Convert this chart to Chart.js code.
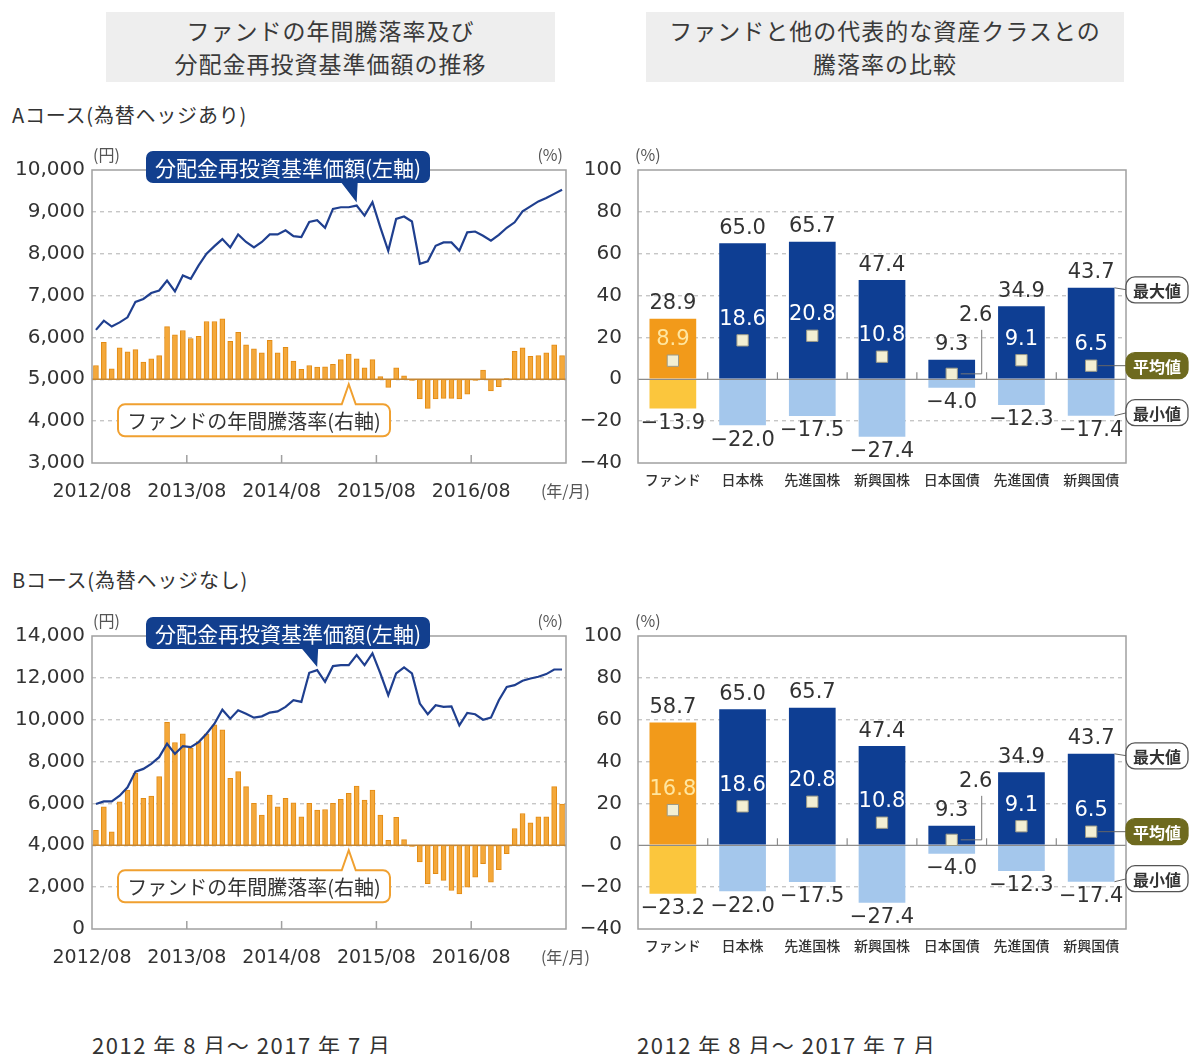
<!DOCTYPE html>
<html lang="ja">
<head>
<meta charset="utf-8">
<script src="https://cdn.jsdelivr.net/npm/chart.js@4.4.1/dist/chart.umd.min.js"></script>
<style>
  body { margin: 0; background: #fff; width: 1191px; height: 1054px; position: relative; overflow: hidden;
         font-family: "Noto Sans CJK JP", "Noto Sans", sans-serif; color: #333; }
  .title { position: absolute; top: 12px; height: 70px; background: #eeeeee; text-align: center;
           font-size: 23px; line-height: 33px; padding-top: 2px; box-sizing: border-box; color: #3a3a3a; letter-spacing: 1px; }
  .course { position: absolute; left: 12px; font-size: 20px; color: #333; letter-spacing: 0.8px; }
  .period { position: absolute; top: 1028px; font-size: 22px; color: #333; letter-spacing: 1.5px; }
  canvas { position: absolute; }
</style>
</head>
<body>
<div class="title" style="left:106px;width:449px">ファンドの年間騰落率及び<br>分配金再投資基準価額の推移</div>
<div class="title" style="left:646px;width:478px">ファンドと他の代表的な資産クラスとの<br>騰落率の比較</div>

<div class="course" style="top:100px">Aコース(為替ヘッジあり)</div>
<canvas id="leftA" width="600" height="372" style="left:0;top:140px"></canvas>
<canvas id="rightA" width="631" height="372" style="left:560px;top:140px"></canvas>

<div class="course" style="top:565px">Bコース(為替ヘッジなし)</div>
<canvas id="leftB" width="600" height="372" style="left:0;top:606px"></canvas>
<canvas id="rightB" width="631" height="372" style="left:560px;top:606px"></canvas>

<div class="period" style="left:92px">2012 年 8 月～ 2017 年 7 月</div>
<div class="period" style="left:637px">2012 年 8 月～ 2017 年 7 月</div>

<script>
const JP = '"Noto Sans CJK JP", "Noto Sans", sans-serif';
const NUM = '"DejaVu Sans", "Noto Sans CJK JP", sans-serif';

/* ---------- Data ---------- */
// x tick labels: month index where each label sits (2012/08 = 0)
const yearLabels = ['2012/08', '2013/08', '2014/08', '2015/08', '2016/08'];
const yearStartIdx = [0, 12, 24, 36, 48];

// A course: monthly NAV (dividends reinvested, yen) and annual return (%)
const navA = [6180, 6400, 6260, 6360, 6480, 6850, 6920, 7060, 7120, 7360, 7100, 7480,
              7400, 7720, 8000, 8180, 8350, 8150, 8460, 8280, 8150, 8280, 8460, 8460,
              8560, 8420, 8400, 8760, 8800, 8620, 9070, 9110, 9110, 9150, 8910, 9230,
              8630, 8070, 8830, 8890, 8770, 7760, 7820, 8190, 8270, 8270, 8070, 8510,
              8530, 8430, 8310, 8450, 8620, 8750, 9010, 9130, 9250, 9330, 9430, 9530];
const retA = [6.6, 17.6, 5.0, 15.0, 13.1, 14.2, 8.2, 9.8, 11.3, 25.2, 21.3, 23.3,
              19.4, 20.5, 27.6, 27.6, 28.9, 18.1, 22.4, 16.5, 14.5, 12.6, 18.6, 12.6,
              15.3, 8.7, 4.7, 6.6, 5.8, 6.0, 7.1, 9.4, 12.1, 9.8, 5.5, 9.4,
              1.3, -3.9, 5.5, 1.6, -0.5, -9.4, -13.9, -9.4, -9.1, -9.1, -9.4, -7.1,
              -0.5, 4.4, -5.5, -3.5, 0.3, 13.4, 15.0, 11.0, 11.3, 12.6, 16.5, 11.3];

// B course
const navB = [5970, 6100, 6100, 6370, 6770, 7520, 7650, 7890, 8210, 8850, 8370, 8740,
              8690, 8930, 9330, 9810, 10480, 10050, 10450, 10290, 10100, 10160, 10340, 10400,
              10610, 10930, 10850, 12240, 12370, 11810, 12560, 12610, 12610, 13090, 12610, 13170,
              12210, 11170, 12210, 12500, 12210, 10770, 10260, 10690, 10610, 10640, 9730, 10320,
              10260, 10000, 10100, 10930, 11570, 11650, 11860, 11970, 12050, 12180, 12400, 12400];
const retB = [7.2, 18.4, 6.4, 20.8, 26.4, 34.4, 22.4, 23.5, 32.8, 58.7, 49.1, 53.3,
              46.4, 49.6, 53.3, 57.6, 55.2, 32.0, 35.2, 28.0, 20.0, 14.4, 24.0, 18.4,
              22.4, 20.3, 13.6, 20.0, 16.8, 17.1, 20.0, 21.9, 24.8, 28.3, 21.6, 26.4,
              14.4, 2.4, 13.3, 2.7, -0.5, -8.0, -18.4, -13.6, -16.8, -21.6, -23.2, -20.0,
              -15.2, -8.8, -17.6, -11.7, -4.0, 8.0, 15.2, 10.7, 13.6, 13.6, 28.0, 19.7];

// Comparison with other asset classes (%)
const assetClasses = ['ファンド', '日本株', '先進国株', '新興国株', '日本国債', '先進国債', '新興国債'];
const maxA = [28.9, 65.0, 65.7, 47.4, 9.3, 34.9, 43.7];
const avgA = [8.9, 18.6, 20.8, 10.8, 2.6, 9.1, 6.5];
const minA = [-13.9, -22.0, -17.5, -27.4, -4.0, -12.3, -17.4];
const maxB = [58.7, 65.0, 65.7, 47.4, 9.3, 34.9, 43.7];
const avgB = [16.8, 18.6, 20.8, 10.8, 2.6, 9.1, 6.5];
const minB = [-23.2, -22.0, -17.5, -27.4, -4.0, -12.3, -17.4];

/* ---------- Helpers ---------- */
function seg(ctx, x1, y1, x2, y2) { ctx.beginPath(); ctx.moveTo(x1, y1); ctx.lineTo(x2, y2); ctx.stroke(); }

function calloutPath(ctx, x, y, w, h, r, tail) {
  ctx.beginPath();
  ctx.moveTo(x + r, y);
  if (tail && tail.side === 'top') { ctx.lineTo(tail.x1, y); ctx.lineTo(tail.tx, tail.ty); ctx.lineTo(tail.x2, y); }
  ctx.lineTo(x + w - r, y);
  ctx.arcTo(x + w, y, x + w, y + r, r);
  ctx.lineTo(x + w, y + h - r);
  ctx.arcTo(x + w, y + h, x + w - r, y + h, r);
  if (tail && tail.side === 'bottom') { ctx.lineTo(tail.x2, y + h); ctx.lineTo(tail.tx, tail.ty); ctx.lineTo(tail.x1, y + h); }
  ctx.lineTo(x + r, y + h);
  ctx.arcTo(x, y + h, x, y + h - r, r);
  ctx.lineTo(x, y + r);
  ctx.arcTo(x, y, x + r, y, r);
  ctx.closePath();
}

const fmt = v => (v < 0 ? '−' + Math.abs(v).toFixed(1) : v.toFixed(1));

/* ---------- Left chart decorations (frame, zero line, callouts) ---------- */
const leftDecor = {
  id: 'leftDecor',
  afterDatasetsDraw(chart, args, o) {
    const { ctx, chartArea: a } = chart;
    const { x, y, y1 } = chart.scales;
    const nav = chart.data.datasets[0].data;
    const y0 = y1.getPixelForValue(0);
    ctx.save();
    ctx.strokeStyle = '#c48633'; ctx.lineWidth = 1.6; seg(ctx, a.left, y0, a.right, y0);
    ctx.strokeStyle = '#a0a0a0'; ctx.lineWidth = 1.5;
    ctx.strokeRect(a.left, a.top, a.right - a.left, a.bottom - a.top);
    x.ticks.forEach((t, i) => {
      if (!i) return;
      const px = x.getPixelForValue(t.value);
      seg(ctx, px, a.bottom - 8, px, a.bottom);
    });

    ctx.fillStyle = '#555'; ctx.font = `16px ${JP}`; ctx.textBaseline = 'middle';
    ctx.textAlign = 'left'; ctx.fillText('(円)', a.left + 1, a.top - 15);
    ctx.textAlign = 'right'; ctx.fillText('(%)', a.right - 3, a.top - 15);
    ctx.fillText('(年/月)', a.right + 24, a.bottom + 28);

    // navy callout pointing at the NAV line
    const tp = nav[o.navTip];
    const tx = x.getPixelForValue(tp.x), ty = y.getPixelForValue(tp.y) - 3;
    const bx = a.left + 54, by = a.top - 19, bw = 284, bh = 32;
    calloutPath(ctx, bx, by, bw, bh, 7, { side: 'bottom', x1: tx - 15, x2: tx + 1, tx, ty });
    ctx.fillStyle = '#123f8e'; ctx.fill();
    ctx.fillStyle = '#fff'; ctx.font = `21px ${JP}`; ctx.textAlign = 'center';
    ctx.fillText('分配金再投資基準価額(左軸)', bx + bw / 2, by + bh / 2 + 1);

    // orange callout pointing at the bars
    const rx = x.getPixelForValue(o.retTip);
    const ox = a.left + 26, oy = y0 + 25, ow = 272, oh = 32;
    calloutPath(ctx, ox, oy, ow, oh, 7, { side: 'top', x1: rx - 7, x2: rx + 7, tx: rx, ty: y0 + 5 });
    ctx.fillStyle = '#fff'; ctx.fill();
    ctx.strokeStyle = '#f0a030'; ctx.lineWidth = 2; ctx.stroke();
    ctx.fillStyle = '#333'; ctx.font = `20px ${JP}`;
    ctx.fillText('ファンドの年間騰落率(右軸)', ox + ow / 2, oy + oh / 2 + 1);
    ctx.restore();
  }
};

function makeLeft(id, nav, ret, yMin, yMax, yStep, navTip, retTip) {
  return new Chart(document.getElementById(id), {
    type: 'bar',
    data: {
      datasets: [
        { type: 'line', data: nav.map((v, i) => ({ x: i, y: v })), yAxisID: 'y',
          borderColor: '#1f3f8f', borderWidth: 2.2, pointRadius: 0, tension: 0, order: 0 },
        { type: 'bar', data: ret.map((v, i) => ({ x: i, y: v })), yAxisID: 'y1',
          backgroundColor: '#f4a83a', borderColor: '#e28b14', borderWidth: 1, barThickness: 5, order: 1 }
      ]
    },
    options: {
      responsive: false, animation: false, events: [],
      layout: { padding: { top: 30 } },
      plugins: { legend: { display: false }, tooltip: { enabled: false }, leftDecor: { navTip, retTip } },
      scales: {
        x: {
          type: 'linear', min: -0.5, max: 59.5, offset: false,
          afterBuildTicks: s => { s.ticks = yearStartIdx.map(i => ({ value: i - 0.5 })); },
          ticks: { autoSkip: false, maxRotation: 0, padding: 18, color: '#333',
                   font: { family: NUM, size: 19 }, callback: (v, i) => yearLabels[i] },
          grid: { display: false, drawTicks: false }, border: { display: false },
          afterFit: s => { s.height = 49; }
        },
        y: {
          position: 'left', min: yMin, max: yMax,
          ticks: { stepSize: yStep, padding: 7, color: '#333', font: { family: NUM, size: 20 },
                   callback: v => v.toLocaleString('en-US') },
          grid: { drawTicks: false, lineWidth: 1.4,
                  color: c => (c.tick.value === yMin || c.tick.value === yMax) ? 'rgba(0,0,0,0)' : '#c6c6c6' },
          border: { display: false, dash: [4, 4] },
          afterFit: s => { s.width = 92; }
        },
        y1: {
          position: 'right', min: -40, max: 100,
          ticks: { display: false, stepSize: 20 },
          grid: { display: false }, border: { display: false },
          afterFit: s => { s.width = 34; }
        }
      }
    },
    plugins: [leftDecor]
  });
}

/* ---------- Right chart decorations (labels, tags) ---------- */
const rightDecor = {
  id: 'rightDecor',
  beforeDatasetsDraw(chart) {
    const { ctx, chartArea: a } = chart;
    const { x, y } = chart.scales;
    const y0 = y.getPixelForValue(0);
    ctx.save();
    ctx.strokeStyle = '#8c8c8c'; ctx.lineWidth = 1.2;
    seg(ctx, a.left, y0, a.right, y0);
    for (let i = 1; i < chart.data.labels.length; i++) {
      const xb = (x.getPixelForValue(i - 1) + x.getPixelForValue(i)) / 2;
      seg(ctx, xb, y0 - 7, xb, y0);
    }
    ctx.restore();
  },
  afterDraw(chart) {
    const { ctx, chartArea: a } = chart;
    const { x, y } = chart.scales;
    const ds = chart.data.datasets;
    const maxV = ds[0].data.map(d => d[1]);
    const minV = ds[1].data.map(d => d[0]);
    const avgV = ds[2].data;
    ctx.save();
    ctx.strokeStyle = '#a0a0a0'; ctx.lineWidth = 1.5;
    ctx.strokeRect(a.left, a.top, a.right - a.left, a.bottom - a.top);
    ctx.fillStyle = '#555'; ctx.font = `16px ${JP}`; ctx.textBaseline = 'middle'; ctx.textAlign = 'left';
    ctx.fillText('(%)', a.left - 3, a.top - 15);

    ctx.font = `21px ${NUM}`; ctx.textAlign = 'center';
    maxV.forEach((v, i) => {
      const cx = x.getPixelForValue(i);
      const yt = y.getPixelForValue(v);
      ctx.fillStyle = '#333';
      ctx.fillText(fmt(v), cx, yt - 15);
      ctx.fillText(fmt(minV[i]), cx, y.getPixelForValue(minV[i]) + 15);
      const ya = y.getPixelForValue(avgV[i]);
      if (ya - yt > 30) {
        ctx.fillStyle = i === 0 ? '#ffe6a0' : '#ffffff';
        ctx.fillText(fmt(avgV[i]), cx, ya - 21);
      } else {
        const lx = cx + 30;
        ctx.strokeStyle = '#777'; ctx.lineWidth = 1;
        ctx.beginPath(); ctx.moveTo(lx, ya - 44); ctx.lineTo(lx, ya); ctx.lineTo(cx + 9, ya); ctx.stroke();
        ctx.fillStyle = '#333';
        ctx.fillText(fmt(avgV[i]), cx + 24, ya - 58);
      }
    });

    // 最大値 / 平均値 / 最小値 tags attached to the last category
    const k = maxV.length - 1;
    const el = chart.getDatasetMeta(0).data[k];
    const barR = el.x + el.width / 2;
    const bx = a.right, bw = 62, bh = 26;
    const tags = [
      { text: '最大値', yc: y.getPixelForValue(maxV[k]) + 2, from: [barR, y.getPixelForValue(maxV[k])], fill: '#fff', color: '#333' },
      { text: '平均値', yc: y.getPixelForValue(avgV[k]), from: [x.getPixelForValue(k) + 7, y.getPixelForValue(avgV[k])], fill: '#6e6a1f', color: '#fff' },
      { text: '最小値', yc: y.getPixelForValue(minV[k]) - 3, from: [barR, y.getPixelForValue(minV[k])], fill: '#fff', color: '#333' }
    ];
    tags.forEach(t => {
      ctx.strokeStyle = '#666'; ctx.lineWidth = 1;
      seg(ctx, t.from[0], t.from[1], bx + 1, t.yc);
      calloutPath(ctx, bx, t.yc - bh / 2, bw, bh, 9);
      ctx.fillStyle = t.fill; ctx.fill();
      ctx.strokeStyle = t.fill === '#fff' ? '#555' : '#6e6a1f'; ctx.lineWidth = 1.3; ctx.stroke();
      ctx.fillStyle = t.color; ctx.font = `bold 16px ${JP}`;
      ctx.fillText(t.text, bx + bw / 2, t.yc + 1);
    });
    ctx.restore();
  }
};

function makeRight(id, maxV, avgV, minV) {
  return new Chart(document.getElementById(id), {
    type: 'bar',
    data: {
      labels: assetClasses,
      datasets: [
        { data: maxV.map(v => [0, v]), backgroundColor: maxV.map((v, i) => i === 0 ? '#f29a1a' : '#0e3e93'),
          grouped: false, barPercentage: 0.67, categoryPercentage: 1, order: 2 },
        { data: minV.map(v => [v, 0]), backgroundColor: minV.map((v, i) => i === 0 ? '#fbc63d' : '#a4c7ec'),
          grouped: false, barPercentage: 0.67, categoryPercentage: 1, order: 2 },
        { type: 'line', data: avgV, showLine: false, pointStyle: 'rect', pointRadius: 8,
          pointBackgroundColor: '#f3efd3', pointBorderColor: '#9b9a88', pointBorderWidth: 1, order: 0 }
      ]
    },
    options: {
      responsive: false, animation: false, events: [],
      layout: { padding: { top: 30, right: 65 } },
      plugins: { legend: { display: false }, tooltip: { enabled: false } },
      scales: {
        x: {
          ticks: { padding: 8, color: '#333', font: { family: JP, size: 14, weight: '500' } },
          grid: { display: false, drawTicks: false }, border: { display: false },
          afterFit: s => { s.height = 49; }
        },
        y: {
          min: -40, max: 100,
          ticks: { stepSize: 20, padding: 16, color: '#333', font: { family: NUM, size: 20 },
                   callback: v => (v < 0 ? '−' + Math.abs(v) : v) },
          grid: { drawTicks: false, lineWidth: 1.4,
                  color: c => [100, 0, -40].includes(c.tick.value) ? 'rgba(0,0,0,0)' : '#c6c6c6' },
          border: { display: false, dash: [4, 4] },
          afterFit: s => { s.width = 78; }
        }
      }
    },
    plugins: [rightDecor]
  });
}

/* ---------- Build ---------- */
makeLeft('leftA', navA, retA, 3000, 10000, 1000, 33, 32);
makeRight('rightA', maxA, avgA, minA);
makeLeft('leftB', navB, retB, 0, 14000, 2000, 28, 32);
makeRight('rightB', maxB, avgB, minB);
</script>
</body>
</html>
